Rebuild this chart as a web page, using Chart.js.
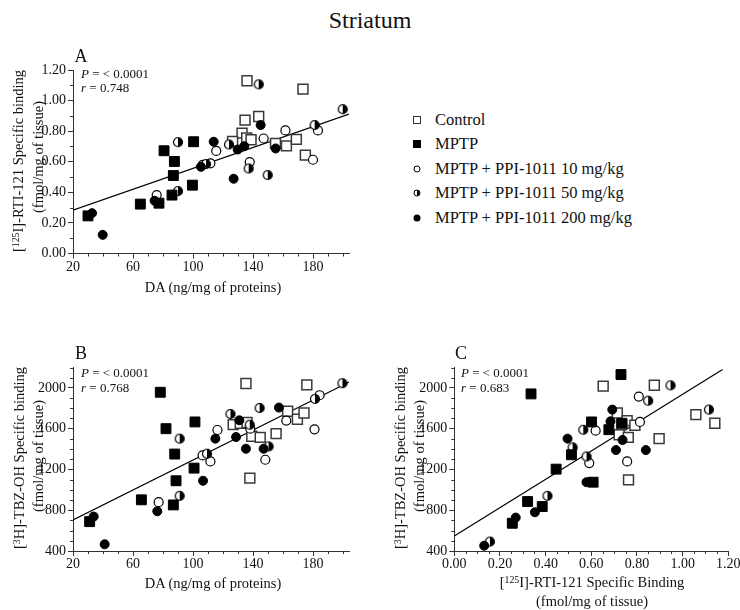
<!DOCTYPE html>
<html lang="en">
<head>
  <meta charset="UTF-8">
  <title>Striatum</title>
  <script src="https://cdn.jsdelivr.net/npm/chart.js"></script>
  <style>
    body {
      margin: 0;
      background: #fff;
      font-family: "Liberation Serif", "Times New Roman", serif;
      color: #111;
    }
    #fig {
      position: relative;
      width: 740px;
      height: 610px;
      overflow: hidden;
      background: #fff;
    }
    .panel { position: absolute; }
    .panel canvas { display: block; }
    .txt {
      position: absolute;
      white-space: nowrap;
      line-height: 1;
      transform: translateY(-50%);
    }
    .mid { transform: translate(-50%, -50%); }
    .rot { transform: translate(-50%, -50%) rotate(-90deg); }
    .ttl { font-size: 14.5px; }
    .stat { font-size: 13px; }
    .stat i { font-style: italic; }
    .letter { font-size: 18px; }
    sup { font-size: 0.68em; vertical-align: 0.42em; line-height: 0; }
    .leg { position: absolute; left: 435px; font-size: 16.5px; line-height: 1; transform: translateY(-50%); white-space: nowrap; }
    .sym { position: absolute; box-sizing: border-box; transform: translate(-50%, -50%); }
    .sq-open { width: 8px; height: 8px; border: 1.3px solid #333; background: #fff; }
    .sq-full { width: 8px; height: 8px; background: #000; }
    .ci-open { width: 7px; height: 7px; border: 1.3px solid #000; border-radius: 50%; background: #fff; }
    .ci-half { width: 7px; height: 7px; border: 1.3px solid #000; border-radius: 50%; background: linear-gradient(to right, #fff 50%, #000 50%); }
    .ci-full { width: 7px; height: 7px; border-radius: 50%; background: #000; }
  </style>
</head>
<body>
<div id="fig">
  <div class="txt mid" style="left:370px; top:20px; font-size:24px;">Striatum</div>

  <!-- panel A -->
  <div class="panel" style="left:0; top:60px;"><canvas id="chartA" width="352" height="220"></canvas></div>
  <div class="txt mid letter" style="left:81px; top:56px;">A</div>
  <div class="txt stat" style="left:81px; top:73px;"><i>P</i> = &lt; 0.0001</div>
  <div class="txt stat" style="left:81px; top:87px;"><i>r</i> = 0.748</div>
  <div class="txt mid ttl" style="left:213px; top:287px;">DA (ng/mg of proteins)</div>
  <div class="txt rot ttl" style="left:18px; top:161px;">[<sup>125</sup>I]-RTI-121 Specific binding</div>
  <div class="txt rot ttl" style="left:38px; top:157px;">(fmol/mg of tissue)</div>

  <!-- panel B -->
  <div class="panel" style="left:0; top:357px;"><canvas id="chartB" width="352" height="220"></canvas></div>
  <div class="txt mid letter" style="left:81px; top:353px;">B</div>
  <div class="txt stat" style="left:81px; top:372px;"><i>P</i> = &lt; 0.0001</div>
  <div class="txt stat" style="left:81px; top:387px;"><i>r</i> = 0.768</div>
  <div class="txt mid ttl" style="left:213px; top:583px;">DA (ng/mg of proteins)</div>
  <div class="txt rot ttl" style="left:19px; top:458px;">[<sup>3</sup>H]-TBZ-OH Specific binding</div>
  <div class="txt rot ttl" style="left:38px; top:456px;">(fmol/mg of tissue)</div>

  <!-- panel C -->
  <div class="panel" style="left:380px; top:357px;"><canvas id="chartC" width="360" height="220"></canvas></div>
  <div class="txt mid letter" style="left:461px; top:353px;">C</div>
  <div class="txt stat" style="left:461px; top:372px;"><i>P</i> = &lt; 0.0001</div>
  <div class="txt stat" style="left:461px; top:387px;"><i>r</i> = 0.683</div>
  <div class="txt mid ttl" style="left:592px; top:582px;">[<sup>125</sup>I]-RTI-121 Specific Binding</div>
  <div class="txt mid ttl" style="left:592px; top:601px;">(fmol/mg of tissue)</div>
  <div class="txt rot ttl" style="left:400px; top:458px;">[<sup>3</sup>H]-TBZ-OH Specific binding</div>
  <div class="txt rot ttl" style="left:419px; top:456px;">(fmol/mg of tissue)</div>

  <!-- legend -->
  <div id="legend"></div>
</div>

<script>
  const FONT = '"Liberation Serif", "Times New Roman", serif';

  const groupNames = ['Control', 'MPTP', 'MPTP + PPI-1011 10 mg/kg', 'MPTP + PPI-1011 50 mg/kg', 'MPTP + PPI-1011 200 mg/kg'];
  const legendClasses = ['sq-open', 'sq-full', 'ci-open', 'ci-half', 'ci-full'];

  // Panel A: x = DA (ng/mg of proteins), y = [125I]-RTI-121 binding (fmol/mg)
  const aControl = [[136, 1.13], [173.3, 1.075], [143.8, 0.896], [134.7, 0.872], [132.7, 0.787], [126.4, 0.733],
                    [135.8, 0.755], [138.7, 0.744], [155, 0.72], [162.3, 0.704], [168.9, 0.746], [174.9, 0.643]];
  const aMptp = [[30, 0.246], [64.9, 0.323], [77.3, 0.329], [80.7, 0.672], [87.6, 0.602], [86.9, 0.51],
                 [86, 0.382], [100.4, 0.731], [99.6, 0.447]];
  const aPpi10 = [[75.8, 0.382], [106.5, 0.58], [111.6, 0.59], [115.5, 0.671], [137.8, 0.598], [147.1, 0.752],
                  [161.6, 0.805], [183.3, 0.805], [180, 0.613]];
  const aPpi50 = [[90, 0.728], [90, 0.408], [108.7, 0.585], [124, 0.713], [143.8, 1.106], [137.1, 0.556],
                  [149.8, 0.513], [181.1, 0.84], [199.8, 0.944]];
  const aPpi200 = [[32.7, 0.264], [39.8, 0.122], [74.4, 0.345], [105.3, 0.567], [113.8, 0.731], [127.1, 0.489],
                   [129.8, 0.68], [134.2, 0.702], [145.1, 0.84], [155.1, 0.687]];
  const aFit = [[20, 0.284], [204, 0.912]];

  // Panel B: x = DA, y = [3H]-TBZ-OH binding (fmol/mg)
  const bControl = [[135.3, 2043], [175.9, 2030], [126.8, 1640], [131.5, 1652], [136, 1660], [139.2, 1525],
                    [144.8, 1515], [155.4, 1551], [163.1, 1771], [169.6, 1692], [174, 1754], [137.9, 1115]];
  const bMptp = [[31.1, 688], [65.6, 902], [78.2, 1957], [82, 1600], [87.8, 1351], [88.7, 1089],
                 [86.9, 852], [101.3, 1666], [100.7, 1213]];
  const bPpi10 = [[77.1, 879], [106.4, 1338], [111.6, 1279], [116.3, 1587], [138.2, 1600], [148.2, 1295],
                  [162.2, 1679], [184.4, 1928], [181, 1594]];
  const bPpi50 = [[91.1, 1502], [91.1, 941], [109.3, 1354], [125, 1744], [144.4, 1803], [137.8, 1639],
                  [150.4, 1426], [181.3, 1892], [199.6, 2046]];
  const bPpi200 = [[33.8, 738], [41.1, 466], [76.2, 790], [106.7, 1089], [114.9, 1502], [128.7, 1518],
                   [130.9, 1682], [135.3, 1403], [147.1, 1403], [157.3, 1807]];
  const bFit = [[20, 705], [204.4, 2059]];

  // Panel C: x = [125I]-RTI-121 binding, y = [3H]-TBZ-OH binding
  const cControl = [[0.652, 2017], [0.876, 2026], [0.714, 1754], [0.757, 1679], [0.722, 1541], [0.762, 1515],
                    [0.791, 1633], [0.897, 1502], [1.058, 1738], [1.141, 1653], [0.763, 1098], [0.733, 1640]];
  const cMptp = [[0.254, 672], [0.321, 885], [0.336, 1941], [0.385, 836], [0.446, 1203], [0.513, 1344],
                 [0.601, 1666], [0.608, 1075], [0.677, 1590], [0.73, 2131], [0.734, 1653]];
  const cPpi10 = [[0.591, 1262], [0.619, 1580], [0.757, 1279], [0.808, 1915], [0.813, 1666]];
  const cPpi50 = [[0.156, 492], [0.408, 941], [0.518, 1417], [0.565, 1589], [0.579, 1327], [0.849, 1874],
                  [0.947, 2025], [1.115, 1787]];
  const cPpi200 = [[0.131, 452], [0.269, 728], [0.353, 780], [0.496, 1502], [0.692, 1787], [0.684, 1672],
                   [0.737, 1489], [0.708, 1390], [0.839, 1390], [0.579, 1075]];
  const cFit = [[0, 548], [1.175, 2180]];

  // tick labels (major ticks); minor ticks fill in between
  const daTicks = [20, 60, 100, 140, 180];
  const rtiYTicks = [0, 0.2, 0.4, 0.6, 0.8, 1.0, 1.2];
  const tbzTicks = [400, 800, 1200, 1600, 2000];
  const rtiXTicks = [0, 0.2, 0.4, 0.6, 0.8, 1.0, 1.2];

  // half filled circle marker (right half black)
  function halfDot(r) {
    const c = document.createElement('canvas');
    const s = Math.ceil(r * 2 + 3);
    c.width = c.height = s;
    const g = c.getContext('2d');
    const m = s / 2;
    g.fillStyle = '#fff';
    g.beginPath(); g.arc(m, m, r, 0, Math.PI * 2); g.fill();
    g.fillStyle = '#000';
    g.beginPath(); g.arc(m, m, r, -Math.PI / 2, Math.PI / 2); g.closePath(); g.fill();
    g.lineWidth = 1.2; g.strokeStyle = '#000';
    g.beginPath(); g.arc(m, m, r, 0, Math.PI * 2); g.stroke();
    return c;
  }

  const markStyles = [
    { pointStyle: 'rect', pointRadius: 7, backgroundColor: '#fff', borderColor: '#3a3a3a', borderWidth: 1.5, order: 5 },
    { pointStyle: 'rect', pointRadius: 7, backgroundColor: '#000', borderColor: '#000', borderWidth: 1, order: 2 },
    { pointStyle: 'circle', pointRadius: 4.5, backgroundColor: '#fff', borderColor: '#000', borderWidth: 1.2, order: 4 },
    { pointStyle: halfDot(4.5), pointRadius: 4.5, backgroundColor: '#000', borderColor: '#000', borderWidth: 1, order: 3 },
    { pointStyle: 'circle', pointRadius: 4.5, backgroundColor: '#000', borderColor: '#000', borderWidth: 1, order: 1 }
  ];

  function toXY(arr) {
    return arr.map(p => ({ x: p[0], y: p[1] }));
  }

  // short minor tick marks, the library draws the long major ones
  const minorTicks = {
    id: 'minorTicks',
    afterDraw(chart) {
      const g = chart.ctx;
      g.save();
      g.strokeStyle = '#333';
      g.lineWidth = 1;
      Object.values(chart.scales).forEach(s => {
        s.ticks.forEach(t => {
          if (!t.minor) return;
          const p = Math.round(s.getPixelForValue(t.value)) + 0.5;
          g.beginPath();
          if (s.isHorizontal()) { g.moveTo(p, s.top); g.lineTo(p, s.top + 3); }
          else { g.moveTo(s.right - 3, p); g.lineTo(s.right, p); }
          g.stroke();
        });
      });
      g.restore();
    }
  };

  function axis(min, max, last, step, majors, digits, pad, size) {
    const isMajor = v => majors.some(m => Math.abs(m - v) < 1e-9);
    return {
      type: 'linear',
      min: min,
      max: max,
      border: { display: true, color: '#333', width: 1 },
      grid: {
        display: true, drawOnChartArea: false, drawTicks: true, tickLength: 5, lineWidth: 1,
        tickColor: c => (c.tick && c.tick.minor) ? 'rgba(0,0,0,0)' : '#333'
      },
      ticks: {
        autoSkip: false,
        maxRotation: 0,
        color: '#111',
        padding: pad,
        font: { family: FONT, size: 14 },
        callback: v => isMajor(v) ? v.toFixed(digits) : ''
      },
      afterBuildTicks: s => {
        const t = [];
        const n = Math.round((last - min) / step);
        for (let i = 0; i <= n; i++) {
          const v = +(min + i * step).toFixed(6);
          t.push({ value: v, minor: !isMajor(v) });
        }
        s.ticks = t;
      },
      afterFit: s => {
        if (s.isHorizontal()) s.height = size; else s.width = size;
        s.paddingLeft = s.paddingRight = s.paddingTop = s.paddingBottom = 0;
      }
    };
  }

  function makePanel(id, groups, fit, xAxis, yAxis, pad) {
    const datasets = groups.map((g, i) => Object.assign({
      label: groupNames[i],
      data: toXY(g),
      clip: false
    }, markStyles[i]));
    datasets.push({
      type: 'line',
      label: 'fit',
      data: toXY(fit),
      borderColor: '#000',
      borderWidth: 1.2,
      pointRadius: 0,
      fill: false,
      order: 10
    });
    new Chart(document.getElementById(id), {
      type: 'scatter',
      data: { datasets: datasets },
      options: {
        responsive: false,
        animation: false,
        events: [],
        layout: { autoPadding: false, padding: pad },
        plugins: { legend: { display: false }, tooltip: { enabled: false } },
        scales: { x: xAxis, y: yAxis }
      },
      plugins: [minorTicks]
    });
  }

  makePanel('chartA', [aControl, aMptp, aPpi10, aPpi50, aPpi200], aFit,
    axis(20, 204, 200, 10, daTicks, 0, 0, 26.5),
    axis(0, 1.2, 1.2, 0.1, rtiYTicks, 2, 2, 73),
    { top: 10, right: 3, left: 0, bottom: 0 });

  makePanel('chartB', [bControl, bMptp, bPpi10, bPpi50, bPpi200], bFit,
    axis(20, 204, 200, 10, daTicks, 0, 0, 26),
    axis(400, 2200, 2200, 100, tbzTicks, 0, 2, 73),
    { top: 10.5, right: 3, left: 0, bottom: 0 });

  makePanel('chartC', [cControl, cMptp, cPpi10, cPpi50, cPpi200], cFit,
    axis(0, 1.2, 1.2, 0.05, rtiXTicks, 2, 0, 26),
    axis(400, 2200, 2200, 100, tbzTicks, 0, 2, 74.3),
    { top: 10.5, right: 11.7, left: 0, bottom: 0 });

  // legend block
  const legend = document.getElementById('legend');
  groupNames.forEach((name, i) => {
    const y = 119.5 + i * 24.6;
    const sym = document.createElement('span');
    sym.className = 'sym ' + legendClasses[i];
    sym.style.left = '416.7px';
    sym.style.top = y + 'px';
    legend.appendChild(sym);
    const row = document.createElement('div');
    row.className = 'leg';
    row.style.top = y + 'px';
    row.textContent = name;
    legend.appendChild(row);
  });
</script>
</body>
</html>
